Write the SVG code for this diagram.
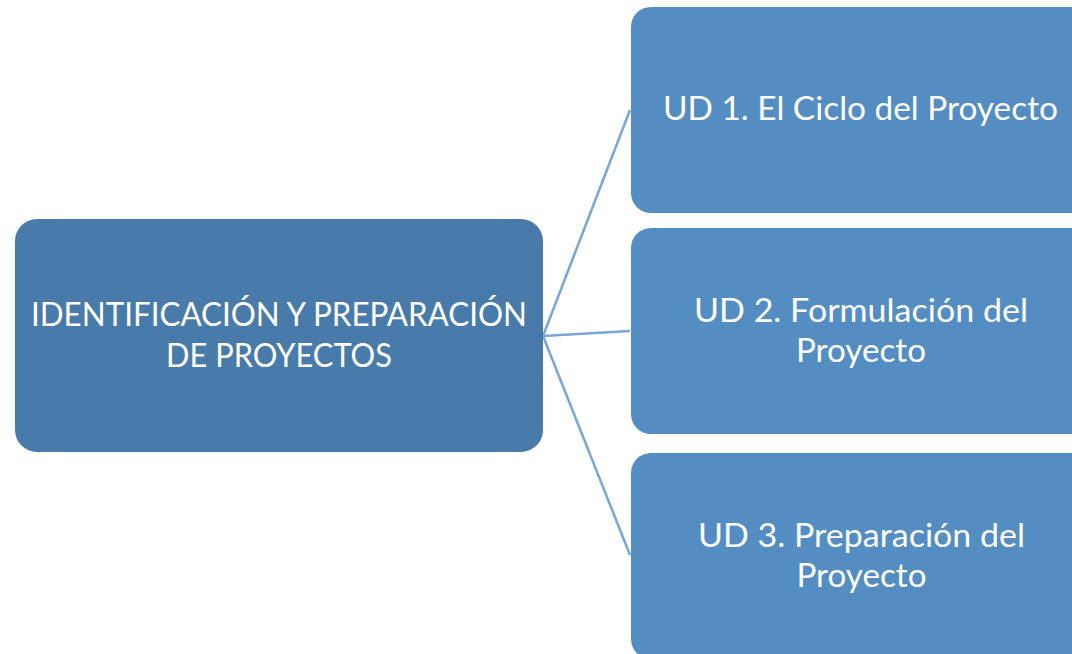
<svg xmlns="http://www.w3.org/2000/svg" width="1072" height="654" viewBox="0 0 1072 654">
<style>
.root{fill:#487BAA}
.leaf{fill:#548DC2}
.t{font-family:Lato,"Open Sans","Liberation Sans",sans-serif;font-size:32px;fill:#FFFFFF;text-anchor:middle}
.c{stroke:#78A6D9;stroke-width:2.5;fill:none}
</style>
<rect width="1072" height="654" fill="#FFFFFF"/>
<g id="connectors">
<line class="c" x1="543" y1="336" x2="630" y2="110"/>
<line class="c" x1="543" y1="336" x2="630" y2="331"/>
<line class="c" x1="543" y1="336" x2="630" y2="555"/>
</g>
<g id="root">
<rect class="root" x="15" y="219" width="528" height="233" rx="22"/>
<text class="t" x="279" y="326" textLength="496" lengthAdjust="spacingAndGlyphs">IDENTIFICACIÓN Y PREPARACIÓN</text>
<text class="t" x="279" y="367" textLength="226" lengthAdjust="spacingAndGlyphs">DE PROYECTOS</text>
</g>
<g id="ud1">
<rect class="leaf" x="631" y="7" width="470" height="206" rx="20"/>
<text class="t" x="860.5" y="120" textLength="395" lengthAdjust="spacingAndGlyphs">UD 1. El Ciclo del Proyecto</text>
</g>
<g id="ud2">
<rect class="leaf" x="631" y="228" width="470" height="206" rx="20"/>
<text class="t" x="861" y="322" textLength="334" lengthAdjust="spacingAndGlyphs">UD 2. Formulación del</text>
<text class="t" x="861" y="362" textLength="130" lengthAdjust="spacingAndGlyphs">Proyecto</text>
</g>
<g id="ud3">
<rect class="leaf" x="631" y="453" width="470" height="206" rx="20"/>
<text class="t" x="861.5" y="547" textLength="327" lengthAdjust="spacingAndGlyphs">UD 3. Preparación del</text>
<text class="t" x="861.5" y="587" textLength="130" lengthAdjust="spacingAndGlyphs">Proyecto</text>
</g>
</svg>
